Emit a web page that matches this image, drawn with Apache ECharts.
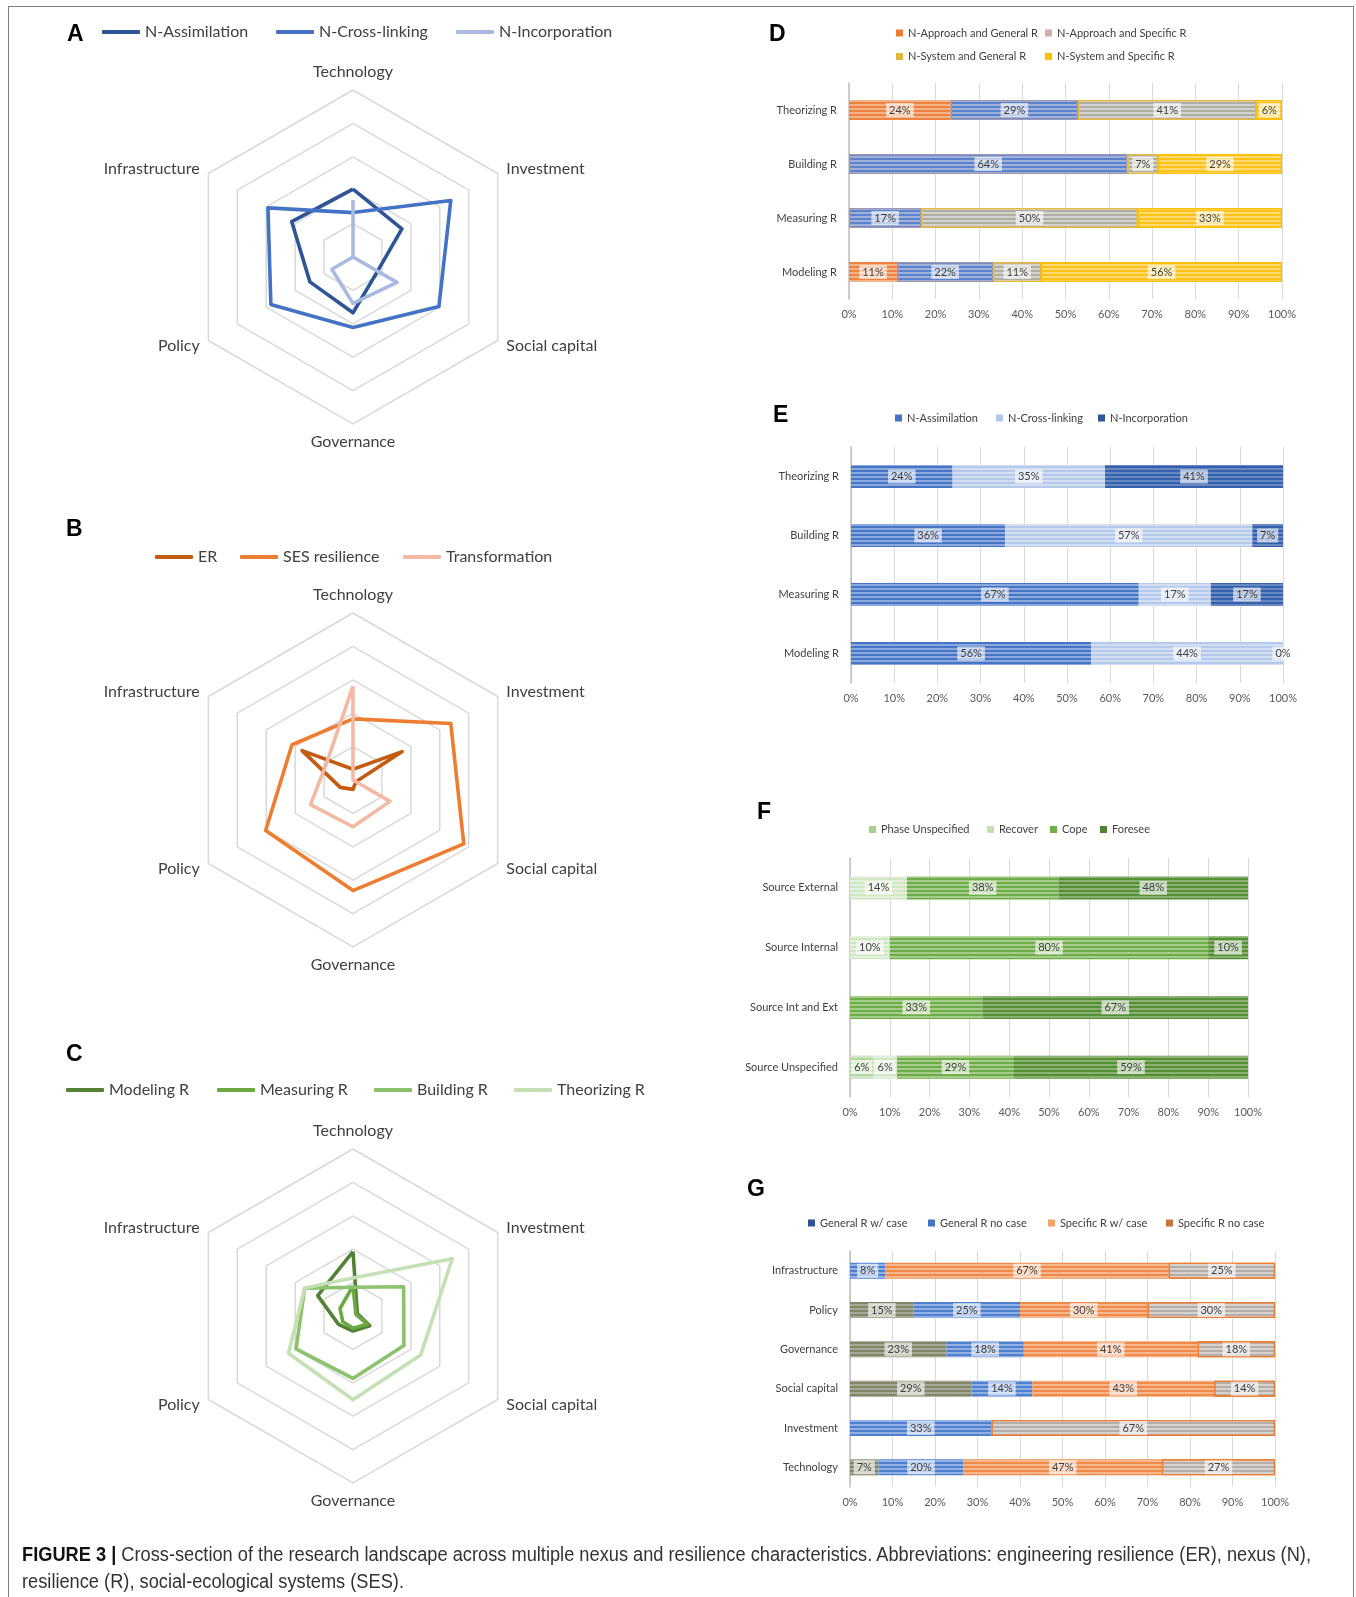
<!DOCTYPE html>
<html>
<head>
<meta charset="utf-8">
<script src="https://cdn.jsdelivr.net/npm/echarts@6/dist/echarts.min.js"></script>
<style>
html,body{margin:0;padding:0;background:#fff;}
#wrap{position:relative;width:1356px;height:1597px;overflow:hidden;background:#fff;}
.chart{position:absolute;left:0;top:0;width:1356px;height:1597px;}
#frame{position:absolute;left:8px;top:6px;width:1346px;height:1640px;border:1.5px solid #7f7f7f;border-bottom:none;box-sizing:border-box;}
.cap{position:absolute;left:22px;white-space:nowrap;font-family:'Liberation Sans Narrow','Liberation Sans',Arial,sans-serif;font-size:20px;line-height:24px;color:#333;transform-origin:0 50%;}
.cap b{color:#111;}
</style>
</head>
<body>
<div id="wrap">
  <div id="frame"></div>
  <div id="leftChart" class="chart"></div>
  <div id="rightChart" class="chart"></div>
  <div id="cap1" class="cap" style="top:1542px"><b>FIGURE 3 |</b> Cross-section of the research landscape across multiple nexus and resilience characteristics. Abbreviations: engineering resilience (ER), nexus (N),</div>
  <div id="cap2" class="cap" style="top:1569px">resilience (R), social-ecological systems (SES).</div>
</div>
<script>
// ---------------- DATA ----------------
// Radar axes (listed in ECharts' counter-clockwise drawing order, starting at the top)
const radarAxes = ['Technology', 'Infrastructure', 'Policy', 'Governance', 'Social capital', 'Investment'];
const radarMax = 5;

// Panel A (values in ring units, same order as radarAxes)
const nexusNames = ['N-Assimilation', 'N-Cross-linking', 'N-Incorporation'];
const nAssimilation  = [2.03, 2.12, 1.49, 1.67, 0.85, 1.69];
const nCrossLinking  = [1.33, 2.94, 2.84, 2.11, 2.97, 3.38];
const nIncorporation = [1.71, 0.00, 0.73, 1.39, 1.52, 0.00];

// Panel B
const resilienceNames = ['ER', 'SES resilience', 'Transformation'];
const erValues        = [0.32, 1.76, 0.44, 0.28, 0.10, 1.70];
const sesValues       = [1.83, 2.11, 3.02, 3.31, 3.83, 3.38];
const transformValues = [2.81, 0.93, 1.47, 1.40, 1.28, 0.00];

// Panel C
const approachNames = ['Modeling R', 'Measuring R', 'Building R', 'Theorizing R'];
const modelingR   = [1.93, 1.22, 0.50, 0.45, 0.58, 0.15];
const measuringR  = [0.90, 0.45, 0.35, 0.37, 0.50, 0.10];
const buildingR   = [0.86, 1.67, 1.97, 1.87, 1.76, 1.75];
const theorizingR = [1.14, 1.67, 2.23, 2.51, 2.34, 3.43];

// Panel D (percent)
const rTypes = ['Theorizing R', 'Building R', 'Measuring R', 'Modeling R'];
const dNames = ['N-Approach and General R', 'N-Approach and Specific R', 'N-System and General R', 'N-System and Specific R'];
const dApproachGeneral  = [23.5, 0, 0, 11.1];
const dApproachSpecific = [29.4, 64.3, 16.7, 22.2];
const dSystemGeneral    = [41.2, 7.1, 50.0, 11.1];
const dSystemSpecific   = [5.9, 28.6, 33.3, 55.6];

// Panel E (percent)
const eNames = ['N-Assimilation', 'N-Cross-linking', 'N-Incorporation'];
const eAssimilation  = [23.5, 35.7, 66.6, 55.6];
const eCrossLinking  = [35.3, 57.2, 16.7, 44.4];
const eIncorporation = [41.2, 7.1, 16.7, 0];

// Panel F (percent)
const sources = ['Source External', 'Source Internal', 'Source Int and Ext', 'Source Unspecified'];
const fNames = ['Phase Unspecified', 'Recover', 'Cope', 'Foresee'];
const fPhaseUnspecified = [0, 0, 0, 5.9];
const fRecover          = [14.3, 10, 0, 5.9];
const fCope             = [38.1, 80, 33.3, 29.4];
const fForesee          = [47.6, 10, 66.7, 58.8];

// Panel G (percent)
const characteristics = ['Infrastructure', 'Policy', 'Governance', 'Social capital', 'Investment', 'Technology'];
const gNames = ['General R w/ case', 'General R no case', 'Specific R w/ case', 'Specific R no case'];
const gGeneralCase    = [0, 15, 22.7, 28.6, 0, 6.7];
const gGeneralNoCase  = [8.3, 25, 18.2, 14.3, 33.3, 20];
const gSpecificCase   = [66.7, 30, 40.9, 42.8, 0, 46.7];
const gSpecificNoCase = [25, 30, 18.2, 14.3, 66.7, 26.6];

// ---------------- STYLE HELPERS ----------------
const FONT = 'Lato, "Open Sans", "Liberation Sans", sans-serif';
const TXT = '#404040';

function letter(t, x, y) {
  return { text: t, left: x, top: y, padding: 0,
    textStyle: { fontSize: 23, fontWeight: 'bold', color: '#000', fontFamily: '"Liberation Sans", Arial, sans-serif' } };
}

// ---------------- LEFT: RADARS ----------------
function radarComp(cy) {
  return {
    center: [353, cy], radius: 167, startAngle: 90, splitNumber: 5, shape: 'polygon',
    indicator: radarAxes.map(n => ({ name: n, min: 0, max: radarMax })),
    axisName: { color: TXT, fontSize: 16, fontFamily: FONT },
    nameGap: 10,
    axisLine: { show: false }, axisTick: { show: false }, axisLabel: { show: false },
    splitLine: { lineStyle: { color: '#d9d9d9', width: 1.5 } },
    splitArea: { show: false }
  };
}
function radarSeries(name, values, color, idx) {
  return {
    type: 'radar', radarIndex: idx, name: name, symbol: 'none', silent: true,
    lineStyle: { color: color, width: 3.6, join: 'round' },
    itemStyle: { color: color },
    data: [{ name: name, value: values }]
  };
}
function lineLegend(name, x, yc, color) {
  return {
    data: [{ name: name, itemStyle: { color: color } }],
    left: x, top: yc - 10, padding: 0, icon: 'roundRect', itemWidth: 38, itemHeight: 4,
    selectedMode: false,
    textStyle: { color: TXT, fontSize: 16, fontFamily: FONT }
  };
}

const colA = ['#2F5597', '#4472C4', '#A9B9E1'];
const colB = ['#C55A11', '#ED7D31', '#F4B9A2'];
const colC = ['#548235', '#6AA944', '#8CC26C', '#C5E0B4'];

const leftOption = {
  animation: false,
  textStyle: { fontFamily: FONT },
  title: [letter('A', 67, 23), letter('B', 66, 518), letter('C', 66, 1043)],
  radar: [radarComp(257), radarComp(780), radarComp(1316)],
  legend: [
    lineLegend(nexusNames[0], 102, 34, colA[0]),
    lineLegend(nexusNames[1], 276, 34, colA[1]),
    lineLegend(nexusNames[2], 456, 34, colA[2]),
    lineLegend(resilienceNames[0], 155, 559, colB[0]),
    lineLegend(resilienceNames[1], 240, 559, colB[1]),
    lineLegend(resilienceNames[2], 403, 559, colB[2]),
    lineLegend(approachNames[0], 66, 1092, colC[0]),
    lineLegend(approachNames[1], 217, 1092, colC[1]),
    lineLegend(approachNames[2], 374, 1092, colC[2]),
    lineLegend(approachNames[3], 514, 1092, colC[3])
  ],
  series: [
    radarSeries(nexusNames[0], nAssimilation, colA[0], 0),
    radarSeries(nexusNames[1], nCrossLinking, colA[1], 0),
    radarSeries(nexusNames[2], nIncorporation, colA[2], 0),
    radarSeries(resilienceNames[0], erValues, colB[0], 1),
    radarSeries(resilienceNames[1], sesValues, colB[1], 1),
    radarSeries(resilienceNames[2], transformValues, colB[2], 1),
    radarSeries(approachNames[0], modelingR, colC[0], 2),
    radarSeries(approachNames[1], measuringR, colC[1], 2),
    radarSeries(approachNames[2], buildingR, colC[2], 2),
    radarSeries(approachNames[3], theorizingR, colC[3], 2)
  ]
};

// ---------------- RIGHT: STACKED BARS ----------------
const grids = [], xAxes = [], yAxes = [], barSeries = [], barLegends = [];

function stripes(c) {
  return { symbol: 'rect', symbolSize: 1, dashArrayX: [1, 0], dashArrayY: [1.5, 1.5], color: c, rotation: 0 };
}
function boxLegend(name, x, yc, color) {
  barLegends.push({
    data: [{ name: name, itemStyle: { color: color, borderWidth: 0, decal: 'none' } }],
    left: x, top: yc - 7, padding: 0, icon: 'rect', itemWidth: 7, itemHeight: 7,
    selectedMode: false,
    textStyle: { color: TXT, fontSize: 11, fontFamily: FONT }
  });
}
function barPanel(gi, cats, grid, barW, defs, showZero) {
  grids.push(grid);
  xAxes.push({
    type: 'value', gridIndex: gi, min: 0, max: 100, interval: 10,
    axisLabel: { formatter: '{value}%', color: '#595959', fontSize: 11, margin: 10 },
    axisLine: { show: false }, axisTick: { show: false },
    splitLine: { lineStyle: { color: '#d9d9d9', width: 1 } }
  });
  yAxes.push({
    type: 'category', gridIndex: gi, inverse: true, data: cats,
    axisLine: { show: true, lineStyle: { color: '#bfbfbf', width: 1.5 } },
    axisTick: { show: false },
    axisLabel: { color: TXT, fontSize: 11, margin: 12 }
  });
  defs.forEach(s => {
    barSeries.push({
      type: 'bar', name: s.name, xAxisIndex: gi, yAxisIndex: gi, stack: 'p' + gi, barWidth: barW,
      silent: true,
      data: s.data.map(v => (v > 0 || showZero) ? v : { value: v, label: { show: false } }),
      itemStyle: {
        color: s.color, borderColor: s.border || s.color, borderWidth: s.border ? 1.3 : 0,
        decal: stripes(s.stripe || 'rgba(255,255,255,0.38)')
      },
      label: {
        show: true, position: 'inside',
        formatter: p => Math.round(p.value) + '%',
        color: TXT, fontSize: 11, fontFamily: FONT,
        backgroundColor: 'rgba(255,255,255,0.62)', padding: [2, 3, 1, 3]
      }
    });
    boxLegend(s.name, s.lx, s.ly, s.legendColor);
  });
}

// D
barPanel(0, rTypes, { left: 849, top: 83, width: 433, height: 216 }, 20, [
  { name: dNames[0], data: dApproachGeneral,  color: '#EE8240', legendColor: '#ED7D31', lx: 896, ly: 34.5 },
  { name: dNames[1], data: dApproachSpecific, color: '#5B82CC', border: '#9C97B2', stripe: 'rgba(215,215,225,0.55)', legendColor: '#D4ACA8', lx: 1045, ly: 34.5 },
  { name: dNames[2], data: dSystemGeneral,    color: '#B0ADA2', border: '#E6BA3E', stripe: 'rgba(235,235,235,0.6)', legendColor: '#E2B73C', lx: 896, ly: 58 },
  { name: dNames[3], data: dSystemSpecific,   color: '#FFC21A', border: '#FFC000', legendColor: '#FFC000', lx: 1045, ly: 58 }
], false);

// E
barPanel(1, rTypes, { left: 851, top: 447, width: 432, height: 236 }, 23, [
  { name: eNames[0], data: eAssimilation,  color: '#4674C6', legendColor: '#4472C4', lx: 895, ly: 419.5 },
  { name: eNames[1], data: eCrossLinking,  color: '#B7C9EA', legendColor: '#B4C7E7', lx: 996, ly: 419.5 },
  { name: eNames[2], data: eIncorporation, color: '#3460AC', stripe: 'rgba(255,255,255,0.25)', legendColor: '#2F5597', lx: 1098, ly: 419.5 }
], true);

// F
barPanel(2, sources, { left: 850, top: 858, width: 398, height: 239 }, 23, [
  { name: fNames[0], data: fPhaseUnspecified, color: '#B6D5A4', legendColor: '#A9D18E', lx: 869, ly: 831 },
  { name: fNames[1], data: fRecover,          color: '#D2E6C5', legendColor: '#C5E0B4', lx: 987, ly: 831 },
  { name: fNames[2], data: fCope,             color: '#6DAD45', legendColor: '#70AD47', lx: 1050, ly: 831 },
  { name: fNames[3], data: fForesee,          color: '#548F35', stripe: 'rgba(255,255,255,0.3)', legendColor: '#548235', lx: 1100, ly: 831 }
], false);

// G
barPanel(3, characteristics, { left: 850, top: 1251, width: 425, height: 236 }, 16, [
  { name: gNames[0], data: gGeneralCase,    color: '#848568', stripe: 'rgba(220,220,220,0.4)', legendColor: '#2F5597', lx: 808, ly: 1224.5 },
  { name: gNames[1], data: gGeneralNoCase,  color: '#4F7FCF', legendColor: '#4472C4', lx: 928, ly: 1224.5 },
  { name: gNames[2], data: gSpecificCase,   color: '#F08A48', legendColor: '#F4A46A', lx: 1048, ly: 1224.5 },
  { name: gNames[3], data: gSpecificNoCase, color: '#B5ADA7', border: '#ED7D31', stripe: 'rgba(235,235,235,0.6)', legendColor: '#C8733A', lx: 1166, ly: 1224.5 }
], false);

const rightOption = {
  animation: false,
  textStyle: { fontFamily: FONT },
  title: [letter('D', 769, 23), letter('E', 773, 404), letter('F', 757, 801), letter('G', 747, 1178)],
  legend: barLegends,
  grid: grids,
  xAxis: xAxes,
  yAxis: yAxes,
  series: barSeries
};

echarts.init(document.getElementById('leftChart')).setOption(leftOption);
echarts.init(document.getElementById('rightChart')).setOption(rightOption);

// caption: fit the first line to the reference width
(function () {
  const c1 = document.getElementById('cap1'), c2 = document.getElementById('cap2');
  const w = c1.getBoundingClientRect().width;
  const s = 1289 / w;
  c1.style.transform = 'scaleX(' + s + ')';
  c2.style.transform = 'scaleX(' + s + ')';
})();
</script>
</body>
</html>
